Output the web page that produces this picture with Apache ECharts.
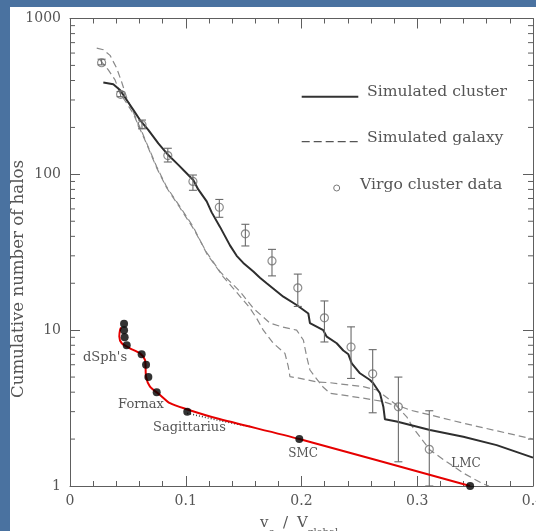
<!DOCTYPE html>
<html><head><meta charset="utf-8">
<script src="https://cdn.jsdelivr.net/npm/echarts@6/dist/echarts.min.js"></script>
<style>
html,body{margin:0;padding:0;width:536px;height:531px;overflow:hidden;background:#4a72a0;}
#panel{position:absolute;left:10px;top:7px;width:526px;height:524px;background:#fff;overflow:hidden;}
#chart{width:526px;height:524px;}
</style></head><body>
<div id="panel"><div id="chart"></div></div>
<script>
// ---- data ----
const xTicks = [0, 0.1, 0.2, 0.3, 0.4];
const yTicks = [1, 10, 100, 1000];
const yMinorTicks = [2,3,4,5,6,7,8,9,20,30,40,50,60,70,80,90,200,300,400,500,600,700,800,900];

// Simulated cluster (solid)
const clusterX = [0.0288,0.0374,0.0432,0.049,0.0547,0.0605,0.0676,0.0763,0.0849,0.0936,0.1022,0.1065,0.1108,0.1181,0.1224,0.1296,0.1382,0.144,0.1497,0.1584,0.1641,0.1699,0.1843,0.1958,0.2059,0.2073,0.2188,0.2218,0.2304,0.2361,0.2405,0.2434,0.2505,0.2592,0.262,0.2678,0.2707,0.2721,0.2822,0.311,0.3398,0.3686,0.4];
const clusterN = [388,379,348,300,259,223,193,158,133,115,99,92,80,67,57,46,35,30,27,23.8,21.7,20,16.4,14.5,12.8,11.1,10.0,9.08,8.24,7.4,7.0,6.13,5.29,4.79,4.56,3.94,3.23,2.68,2.59,2.29,2.07,1.83,1.52];

// Simulated galaxy (dashed) – first curve
const galaxyAX = [0.0231,0.0288,0.0346,0.0403,0.0447,0.049,0.0547,0.0605,0.0663,0.0749,0.0835,0.095,0.1065,0.1181,0.1324,0.1469,0.155,0.1613,0.167,0.1756,0.1857,0.1886,0.19,0.1987,0.2134,0.2246,0.2534,0.265,0.2822,0.2937,0.311,0.3398,0.3974,0.4];
const galaxyAN = [645,630,580,480,390,310,250,200,158,112,83,62,46,31,22,16.5,14,11.9,10.0,8.24,7.1,5.83,5.03,4.91,4.65,4.6,4.34,4.13,3.31,3.07,2.86,2.53,2.02,2.0];

// Simulated galaxy (dashed) – second curve
const galaxyBX = [0.0259,0.0331,0.0389,0.0432,0.049,0.0547,0.0605,0.0663,0.0749,0.0835,0.095,0.1065,0.1181,0.1296,0.1469,0.1584,0.1728,0.1829,0.1958,0.2016,0.2045,0.2073,0.2117,0.2186,0.2246,0.2534,0.2707,0.2822,0.2909,0.2966,0.311,0.3254,0.3398,0.3571,0.362];
const galaxyBN = [542,468,404,331,286,245,195,156,110,82,61,45,31.5,23.7,17.7,13.8,11.1,10.5,10.0,8.65,6.76,5.55,5.02,4.32,3.94,3.66,3.48,3.26,2.78,2.35,1.7,1.43,1.21,1.03,1.0];

// Virgo cluster data with error bars
const virgoX = [0.0273,0.0437,0.0622,0.0845,0.1062,0.129,0.1515,0.1745,0.1968,0.2198,0.2428,0.2615,0.2837,0.3104];
const virgoN = [520,326,208,132,90,61.5,41.5,27.8,18.7,12.0,7.8,5.25,3.22,1.72];
const virgoLow = [504,315,196,120,79,53,34.7,22.3,14.2,8.4,4.9,2.95,1.43,1.0];
const virgoHigh = [548,340,223,147,99,69,47.8,33,22.9,15.4,10.5,7.5,5.0,3.04];

// Milky Way satellites (black dots) and red curve
const mwX = [0.0467,0.0467,0.0472,0.049,0.0619,0.0657,0.0677,0.0749,0.1013,0.1981,0.3457];
const mwN = [11,10,9,8,7,6,5,4,3,2,1];
const redX = [0.0441,0.0432,0.0426,0.0447,0.0518,0.0605,0.0648,0.0657,0.0691,0.0778,0.0864,0.1008,0.1267,0.1981,0.3457];
const redN = [10.4,10.0,9.1,8.24,7.65,7.1,6.44,5.03,4.34,3.84,3.4,3.11,2.72,2.0,1.0];
const dotX = [0.1013,0.13,0.156];
const dotN = [2.93,2.62,2.40];

const zip = (a,b) => a.map((v,i)=>[v,b[i]]);
const axisColor = '#5e5e5e';
const fontFam = '"DejaVu Serif", serif';
const txt = '#555';

const chart = echarts.init(document.getElementById('chart'));
const xBase = {
  type:'value', min:0, max:0.4, interval:0.1,
  axisLine:{show:true, onZero:false, lineStyle:{color:axisColor, width:1}},
  axisTick:{show:true, inside:true, length:10, lineStyle:{color:axisColor}},
  minorTick:{show:true, splitNumber:5, length:5, lineStyle:{color:axisColor}},
  splitLine:{show:false}
};
const yBase = {
  type:'log', logBase:10, min:1, max:1000,
  axisLine:{show:true, onZero:false, lineStyle:{color:axisColor, width:1}},
  axisTick:{show:true, inside:true, length:10, lineStyle:{color:axisColor}},
  splitLine:{show:false}
};
chart.setOption({
  animation:false,
  grid:{left:60, right:3, top:11.5, bottom:45, containLabel:false, outerBoundsMode:'none'},
  xAxis:[
    Object.assign({}, xBase, {position:'bottom',
      axisLabel:{fontFamily:fontFam, fontSize:14, color:txt, margin:8, hideOverlap:false,
        formatter:v=> xTicks.includes(+(+v).toFixed(2)) ? (+v===0?'0':String(+(+v).toFixed(1))) : ''}}),
    Object.assign({}, xBase, {position:'top', axisLabel:{show:false}})
  ],
  yAxis:[
    Object.assign({}, yBase, {position:'left',
      axisLabel:{fontFamily:fontFam, fontSize:14, color:txt, margin:9,
        formatter:v=> yTicks.includes(+v) ? String(v) : ''}}),
    Object.assign({}, yBase, {position:'right', axisLabel:{show:false}})
  ],
  series:[
    { type:'custom', silent:true, z:1, clip:false,
      data: yMinorTicks.map(v=>[0, v]),
      renderItem:(params, api)=>{
        const v = api.value(1);
        const pL = api.coord([0, v]);
        const pR = api.coord([0.4, v]);
        return {type:'group', children:[
          {type:'line', shape:{x1:pL[0], y1:pL[1], x2:pL[0]+5, y2:pL[1]}, style:{stroke:axisColor, lineWidth:1}},
          {type:'line', shape:{x1:pR[0], y1:pR[1], x2:pR[0]-5, y2:pR[1]}, style:{stroke:axisColor, lineWidth:1}}
        ]};
      }
    },
    { name:'Simulated galaxy', type:'line', data:zip(galaxyAX, galaxyAN), showSymbol:false, z:2,
      lineStyle:{color:'#8a8a8a', width:1.2, type:[7,4]} },
    { name:'Simulated galaxy 2', type:'line', data:zip(galaxyBX, galaxyBN), showSymbol:false, z:2,
      lineStyle:{color:'#8a8a8a', width:1.2, type:[7,4]} },
    { name:'Simulated cluster', type:'line', data:zip(clusterX, clusterN), showSymbol:false, z:3,
      lineStyle:{color:'#2e2e2e', width:2} },
    { name:'Virgo cluster data', type:'scatter', data:zip(virgoX, virgoN), symbol:'circle', symbolSize:8, z:4,
      itemStyle:{color:'rgba(0,0,0,0)', borderColor:'#707070', borderWidth:1.2} },
    { type:'custom', silent:true, z:5,
      data: virgoX.map((x,i)=>[x, virgoLow[i], virgoHigh[i]]),
      encode:{x:0, y:[1,2]},
      renderItem:(params, api)=>{
        const x = api.value(0);
        const lo = api.coord([x, api.value(1)]);
        const hi = api.coord([x, api.value(2)]);
        const st = {stroke:'#6a6a6a', lineWidth:1.1};
        return {type:'group', children:[
          {type:'line', shape:{x1:lo[0], y1:lo[1], x2:hi[0], y2:hi[1]}, style:st},
          {type:'line', shape:{x1:lo[0]-4, y1:lo[1], x2:lo[0]+4, y2:lo[1]}, style:st},
          {type:'line', shape:{x1:hi[0]-4, y1:hi[1], x2:hi[0]+4, y2:hi[1]}, style:st}
        ]};
      }
    },
    { type:'line', data:zip(dotX, dotN), showSymbol:false, z:5,
      lineStyle:{color:'#333', width:1.5, type:[1,2]} },
    { type:'line', data:zip(redX, redN), showSymbol:false, smooth:0.25, z:6,
      lineStyle:{color:'#e60000', width:2} },
    { type:'scatter', data:zip(mwX, mwN), symbol:'circle', symbolSize:8, z:7,
      itemStyle:{color:'#000'} }
  ],
  graphic:[
    // legend
    {type:'line', shape:{x1:291.7, y1:89.7, x2:348.3, y2:89.7}, style:{stroke:'#333', lineWidth:2}},
    {type:'text', x:357, y:84.5, style:{text:'Simulated cluster', font:'15.6px "DejaVu Serif"', fill:txt, verticalAlign:'middle'}},
    {type:'line', shape:{x1:291.7, y1:134.7, x2:348.3, y2:134.7}, style:{stroke:'#555', lineWidth:1.3, lineDash:[8,4]}},
    {type:'text', x:357, y:131, style:{text:'Simulated galaxy', font:'15.6px "DejaVu Serif"', fill:txt, verticalAlign:'middle'}},
    {type:'circle', shape:{cx:326.7, cy:181, r:3}, style:{fill:'none', stroke:'#777', lineWidth:1}},
    {type:'text', x:350, y:177.5, style:{text:'Virgo cluster data', font:'15.6px "DejaVu Serif"', fill:txt, verticalAlign:'middle'}},
    // satellite labels
    {type:'text', x:95, y:351, style:{text:"dSph's", font:'13px "DejaVu Serif"', fill:txt, align:'center', verticalAlign:'middle'}},
    {type:'text', x:131, y:398, style:{text:'Fornax', font:'13px "DejaVu Serif"', fill:txt, align:'center', verticalAlign:'middle'}},
    {type:'text', x:179.5, y:421, style:{text:'Sagittarius', font:'13px "DejaVu Serif"', fill:txt, align:'center', verticalAlign:'middle'}},
    {type:'text', x:293, y:447, style:{text:'SMC', font:'12px "DejaVu Serif"', fill:txt, align:'center', verticalAlign:'middle'}},
    {type:'text', x:456, y:457, style:{text:'LMC', font:'12px "DejaVu Serif"', fill:txt, align:'center', verticalAlign:'middle'}},
    // axis titles
    {type:'text', x:8.6, y:272, rotation:Math.PI/2,
      style:{text:'Cumulative number of halos', font:'16.6px "DejaVu Serif"', fill:txt, align:'center', verticalAlign:'middle'}},
    {type:'text', x:250, y:516.5, style:{text:'v', font:'15px "DejaVu Serif"', fill:txt, verticalAlign:'middle'}},
    {type:'text', x:258.5, y:525.5, style:{text:'c', font:'10px "DejaVu Serif"', fill:txt, verticalAlign:'middle'}},
    {type:'text', x:273, y:516.5, style:{text:'/', font:'15px "DejaVu Serif"', fill:txt, verticalAlign:'middle'}},
    {type:'text', x:287, y:516.5, style:{text:'V', font:'15px "DejaVu Serif"', fill:txt, verticalAlign:'middle'}},
    {type:'text', x:297, y:525.5, style:{text:'global', font:'10px "DejaVu Serif"', fill:txt, verticalAlign:'middle'}}
  ]
});
</script>
</body></html>
